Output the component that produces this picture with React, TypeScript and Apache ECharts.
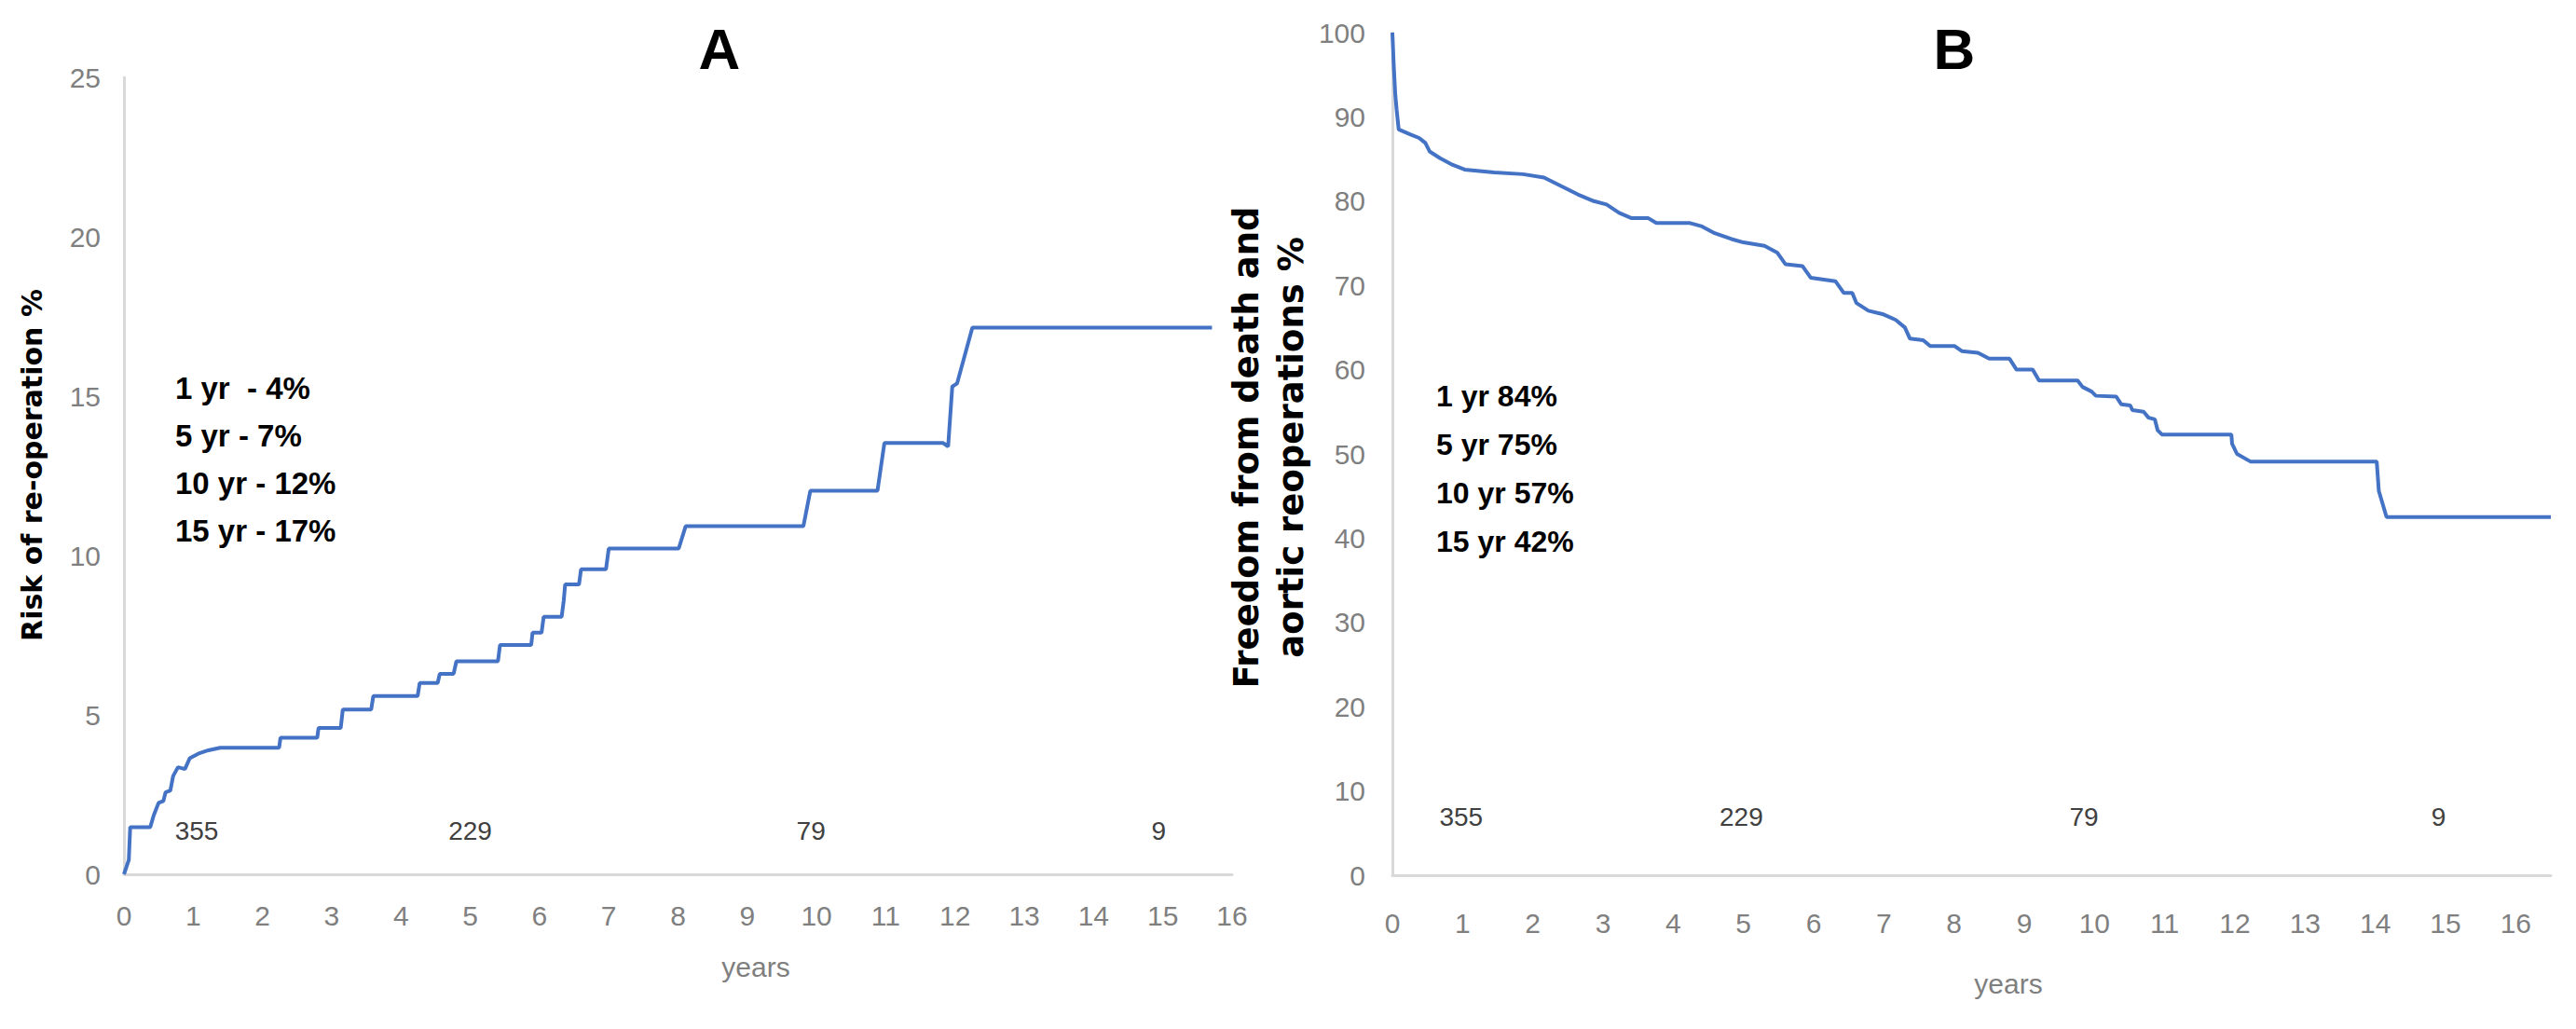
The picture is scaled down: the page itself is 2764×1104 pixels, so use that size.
import React, { useEffect, useRef } from "react";
import * as echarts from "echarts";

const W = 2764;
const H = 1104;

// Panel A: cumulative risk of re-operation (%), [years, value]
const riskCurve: [number, number][] = [
  [0, 0], [0.07, 0.45], [0.09, 1.48], [0.38, 1.48], [0.43, 1.85], [0.5, 2.24], [0.57, 2.3],
  [0.6, 2.57], [0.67, 2.63], [0.71, 3.08], [0.78, 3.36], [0.88, 3.3], [0.95, 3.64],
  [1.09, 3.8], [1.22, 3.89], [1.39, 3.97], [2.24, 3.97], [2.26, 4.28], [2.79, 4.28],
  [2.81, 4.59], [3.13, 4.59], [3.16, 5.17], [3.57, 5.17], [3.6, 5.59], [4.24, 5.59],
  [4.27, 6.0], [4.53, 6.0], [4.56, 6.29], [4.76, 6.29], [4.8, 6.68], [5.4, 6.68],
  [5.43, 7.19], [5.88, 7.19], [5.9, 7.58], [6.03, 7.58], [6.06, 8.08], [6.32, 8.08],
  [6.35, 8.59], [6.37, 9.09], [6.57, 9.09], [6.6, 9.57], [6.96, 9.57], [7.0, 10.22],
  [8.01, 10.22], [8.11, 10.92], [9.81, 10.92], [9.91, 12.03], [10.88, 12.03],
  [10.98, 13.53], [11.83, 13.53], [11.9, 13.42], [11.96, 15.3], [12.03, 15.4],
  [12.25, 17.15], [15.71, 17.15],
];

// Panel B: freedom from death and aortic reoperations (%), [years, value]
const freedomCurve: [number, number][] = [
  [0, 100], [0.02, 96], [0.04, 92.8], [0.06, 90.9], [0.09, 88.5], [0.26, 87.9], [0.38, 87.5],
  [0.47, 86.9], [0.53, 85.9], [0.68, 85.1], [0.86, 84.3], [1.03, 83.75], [1.45, 83.4],
  [1.86, 83.2], [2.16, 82.8], [2.4, 81.8], [2.64, 80.8], [2.87, 80.0], [3.05, 79.6],
  [3.23, 78.6], [3.4, 78.0], [3.64, 78.0], [3.76, 77.4], [4.24, 77.4], [4.41, 77.0],
  [4.59, 76.2], [4.83, 75.5], [5.0, 75.1], [5.3, 74.7], [5.48, 73.9], [5.6, 72.5],
  [5.84, 72.3], [5.96, 70.9], [6.31, 70.5], [6.43, 69.1], [6.55, 69.1], [6.61, 67.9],
  [6.78, 67.0], [6.98, 66.6], [7.17, 65.9], [7.3, 65.0], [7.37, 63.7], [7.56, 63.5],
  [7.66, 62.8], [8.01, 62.8], [8.11, 62.2], [8.34, 62.0], [8.5, 61.3], [8.79, 61.3],
  [8.89, 60.0], [9.12, 60.0], [9.21, 58.7], [9.76, 58.7], [9.83, 57.95], [9.96, 57.4],
  [10.02, 56.9], [10.31, 56.8], [10.38, 55.9], [10.51, 55.75], [10.54, 55.2], [10.7, 55.0],
  [10.77, 54.3], [10.86, 54.1], [10.9, 52.8], [10.96, 52.3], [11.95, 52.3], [11.96, 51.2],
  [12.03, 50.0], [12.22, 49.1], [14.02, 49.1], [14.05, 45.6], [14.16, 42.5], [16.5, 42.5],
];

// Numbers at risk
const atRiskCounts = [355, 229, 79, 9];
const atRiskYearsA = [1.05, 5.0, 9.92, 14.94];
const atRiskYearsB = [0.98, 4.97, 9.85, 14.9];
const atRiskLevelA = 1.37;
const atRiskLevelB = 6.9;

// Summary texts
const summaryA = ["1 yr  - 4%", "5 yr - 7%", "10 yr - 12%", "15 yr - 17%"];
const summaryB = ["1 yr 84%", "5 yr 75%", "10 yr 57%", "15 yr 42%"];

const NARROW = "'Liberation Sans Narrow', 'Liberation Sans', sans-serif";
const WIDE_BOLD = "'DejaVu Sans', sans-serif";
const BLUE = "#4472C4";
const AXIS_GRAY = "#d9d9d9";
const LABEL_GRAY = "#7f7f7f";

function baseAxis(extra: any) {
  return {
    type: "value",
    axisLine: { show: true, lineStyle: { color: AXIS_GRAY, width: 3 } },
    axisTick: { show: false },
    splitLine: { show: false },
    ...extra,
  };
}

function intLabel(v: number) {
  return Number.isInteger(v) ? String(v) : "";
}

function buildOption() {
  const labelStyle = { color: LABEL_GRAY, fontSize: 30, fontFamily: NARROW };
  const graphic: any[] = [
    { type: "text", x: 772, y: 52, style: { text: "A", fill: "#000", fontSize: 62, fontWeight: "bold", fontFamily: "'Liberation Sans', sans-serif", align: "center", verticalAlign: "middle" } },
    { type: "text", x: 2097, y: 52, style: { text: "B", fill: "#000", fontSize: 62, fontWeight: "bold", fontFamily: "'Liberation Sans', sans-serif", align: "center", verticalAlign: "middle" } },
    { type: "text", x: 34, y: 499, rotation: Math.PI / 2, style: { text: "Risk of re-operation %", fill: "#000", fontSize: 30, fontWeight: "bold", fontFamily: WIDE_BOLD, align: "center", verticalAlign: "middle" } },
    { type: "text", x: 1361, y: 480, rotation: Math.PI / 2, style: { text: "Freedom from death and\naortic reoperations %", fill: "#000", fontSize: 37, lineHeight: 48, fontWeight: "bold", fontFamily: WIDE_BOLD, align: "center", verticalAlign: "middle" } },
    { type: "text", x: 811, y: 1037, style: { text: "years", fill: LABEL_GRAY, fontSize: 30, fontFamily: NARROW, align: "center", verticalAlign: "middle" } },
    { type: "text", x: 2155, y: 1055, style: { text: "years", fill: LABEL_GRAY, fontSize: 30, fontFamily: NARROW, align: "center", verticalAlign: "middle" } },
  ];
  summaryA.forEach((t, i) => {
    graphic.push({ type: "text", x: 188, y: 416 + i * 51.3, style: { text: t, fill: "#000", fontSize: 33, fontWeight: "bold", fontFamily: NARROW, align: "left", verticalAlign: "middle" } });
  });
  summaryB.forEach((t, i) => {
    graphic.push({ type: "text", x: 1541, y: 425 + i * 52, style: { text: t, fill: "#000", fontSize: 32, fontWeight: "bold", fontFamily: NARROW, align: "left", verticalAlign: "middle" } });
  });

  const atRiskLabel = {
    show: true,
    position: "inside",
    formatter: (p: any) => String(p.value[2]),
    color: "#404040",
    fontSize: 28,
    fontFamily: NARROW,
    opacity: 1,
  };

  return {
    animation: false,
    backgroundColor: "#ffffff",
    grid: [
      { left: 133, top: 83, width: 1189, height: 855, containLabel: false },
      { left: 1494, top: 35, width: 1243, height: 904, containLabel: false },
    ],
    xAxis: [
      baseAxis({ gridIndex: 0, min: 0, max: 16, interval: 1, axisLabel: { ...labelStyle, margin: 29, formatter: intLabel } }),
      baseAxis({ gridIndex: 1, min: 0, max: 16.5, interval: 1, axisLabel: { ...labelStyle, margin: 36, formatter: intLabel } }),
    ],
    yAxis: [
      baseAxis({ gridIndex: 0, min: 0, max: 25, interval: 5, axisLabel: { ...labelStyle, margin: 25 } }),
      baseAxis({ gridIndex: 1, min: 0, max: 100, interval: 10, axisLabel: { ...labelStyle, margin: 29 } }),
    ],
    graphic,
    series: [
      {
        type: "line",
        xAxisIndex: 0,
        yAxisIndex: 0,
        data: riskCurve,
        showSymbol: false,
        symbol: "none",
        lineStyle: { color: BLUE, width: 4 },
        z: 3,
      },
      {
        type: "line",
        xAxisIndex: 1,
        yAxisIndex: 1,
        data: freedomCurve,
        showSymbol: false,
        symbol: "none",
        lineStyle: { color: BLUE, width: 4 },
        z: 3,
      },
      {
        type: "scatter",
        xAxisIndex: 0,
        yAxisIndex: 0,
        symbolSize: 2,
        itemStyle: { color: "rgba(0,0,0,0)" },
        data: atRiskYearsA.map((x, i) => [x, atRiskLevelA, atRiskCounts[i]]),
        label: atRiskLabel,
        z: 4,
      },
      {
        type: "scatter",
        xAxisIndex: 1,
        yAxisIndex: 1,
        symbolSize: 2,
        itemStyle: { color: "rgba(0,0,0,0)" },
        data: atRiskYearsB.map((x, i) => [x, atRiskLevelB, atRiskCounts[i]]),
        label: atRiskLabel,
        z: 4,
      },
    ],
  };
}

export default function App() {
  const ref = useRef<HTMLDivElement>(null);
  useEffect(() => {
    if (!ref.current) return;
    const chart = echarts.init(ref.current, null, { renderer: "svg", width: W, height: H });
    chart.setOption(buildOption() as any);
    return () => chart.dispose();
  }, []);
  return (
    <div
      ref={ref}
      style={{ position: "fixed", left: 0, top: 0, width: W, height: H, background: "#fff" }}
    />
  );
}
